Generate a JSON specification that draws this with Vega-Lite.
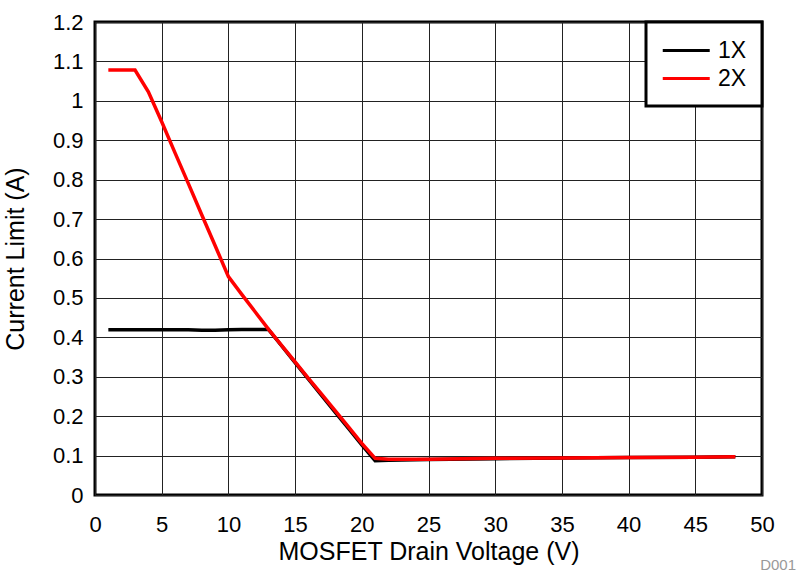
{
  "$schema": "https://vega.github.io/schema/vega-lite/v6.json",
  "width": 667,
  "height": 473,
  "autosize": "none",
  "padding": {"left": 95, "top": 22, "right": 35, "bottom": 77},
  "background": "white",
  "config": {
    "font": "Liberation Sans",
    "view": {"stroke": "#000", "strokeWidth": 3},
    "axis": {
      "grid": true,
      "gridColor": "#222",
      "gridWidth": 1,
      "gridOpacity": 1,
      "domain": false,
      "ticks": false,
      "labelFlush": false,
      "labelFontSize": 22,
      "labelColor": "#000",
      "titleFontSize": 25,
      "titleFontWeight": "normal",
      "titleColor": "#000",
      "labelFont": "Liberation Sans",
      "titleFont": "Liberation Sans"
    },
    "legend": {
      "labelFont": "Liberation Sans"
    }
  },
  "title": {
    "text": "D001",
    "orient": "bottom",
    "anchor": "end",
    "frame": "group",
    "fontSize": 15,
    "fontWeight": "normal",
    "color": "#999",
    "dx": 34,
    "offset": -6
  },
  "data": {
    "values": [
      {"v": 1, "i": 0.419, "s": "1X"},
      {"v": 2, "i": 0.419, "s": "1X"},
      {"v": 3, "i": 0.419, "s": "1X"},
      {"v": 4, "i": 0.419, "s": "1X"},
      {"v": 5, "i": 0.419, "s": "1X"},
      {"v": 6, "i": 0.419, "s": "1X"},
      {"v": 7, "i": 0.419, "s": "1X"},
      {"v": 8, "i": 0.418, "s": "1X"},
      {"v": 9, "i": 0.418, "s": "1X"},
      {"v": 10, "i": 0.419, "s": "1X"},
      {"v": 11, "i": 0.42, "s": "1X"},
      {"v": 12, "i": 0.42, "s": "1X"},
      {"v": 13, "i": 0.42, "s": "1X"},
      {"v": 14, "i": 0.378, "s": "1X"},
      {"v": 15, "i": 0.336, "s": "1X"},
      {"v": 16, "i": 0.294, "s": "1X"},
      {"v": 17, "i": 0.252, "s": "1X"},
      {"v": 18, "i": 0.21, "s": "1X"},
      {"v": 19, "i": 0.169, "s": "1X"},
      {"v": 20, "i": 0.127, "s": "1X"},
      {"v": 21, "i": 0.087, "s": "1X"},
      {"v": 22, "i": 0.088, "s": "1X"},
      {"v": 25, "i": 0.09, "s": "1X"},
      {"v": 30, "i": 0.092, "s": "1X"},
      {"v": 35, "i": 0.094, "s": "1X"},
      {"v": 40, "i": 0.095, "s": "1X"},
      {"v": 45, "i": 0.096, "s": "1X"},
      {"v": 48, "i": 0.097, "s": "1X"},
      {"v": 1, "i": 1.078, "s": "2X"},
      {"v": 2, "i": 1.078, "s": "2X"},
      {"v": 3, "i": 1.078, "s": "2X"},
      {"v": 4, "i": 1.023, "s": "2X"},
      {"v": 5, "i": 0.947, "s": "2X"},
      {"v": 6, "i": 0.868, "s": "2X"},
      {"v": 7, "i": 0.79, "s": "2X"},
      {"v": 8, "i": 0.711, "s": "2X"},
      {"v": 9, "i": 0.633, "s": "2X"},
      {"v": 10, "i": 0.554, "s": "2X"},
      {"v": 11, "i": 0.509, "s": "2X"},
      {"v": 12, "i": 0.465, "s": "2X"},
      {"v": 13, "i": 0.421, "s": "2X"},
      {"v": 14, "i": 0.379, "s": "2X"},
      {"v": 15, "i": 0.338, "s": "2X"},
      {"v": 16, "i": 0.296, "s": "2X"},
      {"v": 17, "i": 0.255, "s": "2X"},
      {"v": 18, "i": 0.214, "s": "2X"},
      {"v": 19, "i": 0.173, "s": "2X"},
      {"v": 20, "i": 0.131, "s": "2X"},
      {"v": 21, "i": 0.093, "s": "2X"},
      {"v": 22, "i": 0.091, "s": "2X"},
      {"v": 25, "i": 0.091, "s": "2X"},
      {"v": 30, "i": 0.093, "s": "2X"},
      {"v": 35, "i": 0.094, "s": "2X"},
      {"v": 40, "i": 0.095, "s": "2X"},
      {"v": 45, "i": 0.096, "s": "2X"},
      {"v": 48, "i": 0.097, "s": "2X"}
    ]
  },
  "mark": {"type": "line", "strokeWidth": 3.5, "strokeJoin": "miter", "clip": true},
  "encoding": {
    "x": {
      "field": "v",
      "type": "quantitative",
      "scale": {"domain": [0, 50], "nice": false, "zero": false},
      "axis": {
        "title": "MOSFET Drain Voltage (V)",
        "values": [0, 5, 10, 15, 20, 25, 30, 35, 40, 45, 50],
        "labelPadding": 19,
        "titlePadding": 4
      }
    },
    "y": {
      "field": "i",
      "type": "quantitative",
      "scale": {"domain": [0, 1.2], "nice": false},
      "axis": {
        "title": "Current Limit (A)",
        "values": [0, 0.1, 0.2, 0.3, 0.4, 0.5, 0.6, 0.7, 0.8, 0.9, 1, 1.1, 1.2],
        "format": ".1~f",
        "labelPadding": 12,
        "titlePadding": 24
      }
    },
    "color": {
      "field": "s",
      "type": "nominal",
      "scale": {"domain": ["1X", "2X"], "range": ["#000000", "#ff0000"]},
      "legend": {
        "title": null,
        "orient": "top-right",
        "offset": 0,
        "symbolType": "M-1,0H3",
        "symbolSize": 552,
        "symbolStrokeWidth": 3,
        "labelFontSize": 23,
        "labelColor": "#000",
        "labelOffset": 30,
        "rowPadding": 2,
        "padding": 15,
        "fillColor": "white",
        "strokeColor": "#000",
        "encode": {"legend": {"update": {"strokeWidth": {"value": 3}}}}
      }
    }
  }
}
